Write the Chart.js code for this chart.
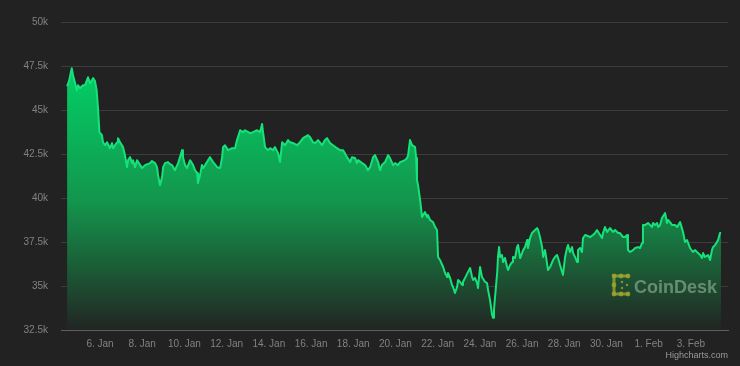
<!DOCTYPE html>
<html>
<head>
<meta charset="utf-8">
<title>BTC price</title>
<script src="https://cdn.jsdelivr.net/npm/chart.js@4.4.1/dist/chart.umd.min.js"></script>
<style>
  html, body { margin: 0; padding: 0; background: #222222; }
  #wrap { width: 740px; height: 366px; }
  canvas { display: block; }
</style>
</head>
<body>
<div id="wrap"><canvas id="priceChart" width="740" height="366"></canvas></div>
<script>
// time as day of January (1. Feb = 32), price in USD
const days = [
    4.44, 4.53, 4.66, 4.72, 4.82, 4.90, 4.96, 5.05, 5.19, 5.29,
    5.43, 5.53, 5.67, 5.76, 5.84, 5.91, 5.97, 6.09, 6.14, 6.24,
    6.33, 6.47, 6.57, 6.62, 6.71, 6.81, 6.85, 6.95, 7.09, 7.18,
    7.28, 7.33, 7.42, 7.52, 7.56, 7.66, 7.75, 7.90, 7.99, 8.13,
    8.37, 8.46, 8.61, 8.70, 8.75, 8.84, 8.94, 8.99, 9.08, 9.22,
    9.32, 9.41, 9.55, 9.70, 9.79, 9.89, 9.93, 10.03, 10.12, 10.27,
    10.41, 10.50, 10.60, 10.64, 10.74, 10.83, 10.88, 10.98, 11.12, 11.21,
    11.36, 11.55, 11.69, 11.78, 11.83, 11.92, 12.07, 12.26, 12.40, 12.49,
    12.64, 12.78, 12.87, 13.11, 13.25, 13.44, 13.58, 13.68, 13.73, 13.82,
    13.96, 14.06, 14.20, 14.29, 14.44, 14.53, 14.63, 14.77, 14.91, 15.00,
    15.15, 15.34, 15.48, 15.62, 15.86, 15.95, 16.09, 16.19, 16.33, 16.52,
    16.66, 16.76, 16.90, 17.04, 17.23, 17.37, 17.52, 17.71, 17.85, 17.94,
    18.09, 18.18, 18.23, 18.42, 18.56, 18.70, 18.80, 18.94, 19.03, 19.18,
    19.27, 19.36, 19.51, 19.65, 19.74, 19.89, 19.98, 20.12, 20.22, 20.45,
    20.55, 20.60, 20.69, 20.79, 20.93, 20.98, 21.02, 21.07, 21.17, 21.26,
    21.40, 21.50, 21.54, 21.64, 21.78, 21.88, 21.97, 22.02, 22.11, 22.26,
    22.35, 22.45, 22.49, 22.59, 22.68, 22.73, 22.82, 22.92, 22.97, 23.06,
    23.16, 23.20, 23.30, 23.44, 23.54, 23.63, 23.68, 23.77, 23.87, 23.91,
    24.01, 24.10, 24.25, 24.34, 24.39, 24.48, 24.58, 24.63, 24.67, 24.72,
    24.82, 24.86, 24.91, 24.96, 25.05, 25.10, 25.19, 25.29, 25.34, 25.43,
    25.53, 25.57, 25.67, 25.76, 25.81, 25.91, 26.00, 26.05, 26.14, 26.24,
    26.28, 26.38, 26.47, 26.62, 26.71, 26.76, 26.85, 26.95, 27.00, 27.09,
    27.18, 27.23, 27.33, 27.47, 27.56, 27.66, 27.71, 27.80, 27.90, 27.94,
    28.04, 28.13, 28.18, 28.27, 28.37, 28.42, 28.51, 28.61, 28.65, 28.75,
    28.84, 28.89, 28.99, 29.13, 29.22, 29.36, 29.46, 29.55, 29.70, 29.79,
    29.84, 29.93, 30.03, 30.17, 30.31, 30.41, 30.55, 30.64, 30.79, 30.88,
    30.98, 31.02, 31.12, 31.26, 31.36, 31.50, 31.59, 31.69, 31.73, 31.83,
    31.97, 32.07, 32.16, 32.21, 32.30, 32.40, 32.45, 32.54, 32.63, 32.78,
    32.87, 32.92, 33.01, 33.11, 33.25, 33.35, 33.49, 33.63, 33.72, 33.82,
    33.96, 34.10, 34.20, 34.29, 34.44, 34.53, 34.58, 34.67, 34.82, 34.91,
    35.00, 35.05, 35.15, 35.29, 35.38, 35.43
];

const prices = [
    46350, 46640, 47370, 46980, 46520, 46120, 46410, 46240, 46410, 46410,
    46860, 46520, 46810, 46640, 46120, 44990, 43740, 43570, 43170, 43000,
    43170, 42830, 43120, 42830, 43000, 43170, 43400, 43170, 42890, 42440,
    41750, 42150, 42320, 41980, 42150, 41750, 42150, 41870, 41700, 41870,
    41980, 42100, 41980, 41750, 41300, 40730, 41190, 41750, 41980, 42040,
    41920, 41870, 41580, 41980, 42320, 42720, 42320, 41870, 41700, 42150,
    41870, 41580, 41410, 40850, 41300, 41870, 41700, 41870, 42150, 42320,
    42040, 41750, 41700, 42270, 42890, 43000, 42720, 42830, 42830, 43290,
    43850, 43740, 43850, 43680, 43740, 43850, 43740, 44200, 43680, 42890,
    42720, 42830, 42720, 42890, 42550, 42040, 43170, 43000, 43290, 43170,
    43120, 43000, 43170, 43400, 43570, 43460, 43170, 43120, 43290, 43000,
    43290, 43400, 43120, 43000, 42830, 42720, 42720, 42320, 42040, 42320,
    42270, 41980, 42150, 41980, 41870, 41580, 41750, 42320, 42440, 42040,
    41580, 41870, 42040, 42440, 42270, 41870, 41980, 41870, 42040, 42150,
    42270, 42440, 43290, 43000, 42890, 42270, 41020, 40730, 39880, 38920,
    39200, 38920, 39030, 38750, 38630, 38350, 38180, 36650, 36480, 36080,
    35740, 35510, 35740, 35460, 35060, 34940, 34600, 34940, 35340, 35230,
    35060, 35230, 35460, 35800, 36020, 35510, 35340, 35460, 35170, 34890,
    36080, 35510, 35230, 35170, 34770, 34210, 33360, 33190, 33640, 34380,
    35740, 36650, 37210, 36650, 36760, 36360, 36590, 36080, 35910, 36190,
    36360, 36650, 36590, 37210, 37330, 36590, 36870, 37040, 37210, 37610,
    37160, 37730, 38010, 38180, 38290, 38180, 37780, 37210, 36650, 37040,
    36310, 35910, 36080, 36480, 36650, 36760, 36590, 36190, 35800, 35630,
    36650, 37160, 37330, 36930, 37210, 36870, 36650, 36360, 37040, 37160,
    36930, 37730, 37900, 37840, 37780, 37900, 38010, 38180, 37900, 37730,
    38010, 38350, 38070, 38290, 38070, 38180, 38010, 38010, 37780, 37780,
    37900, 37040, 36930, 37040, 37160, 37210, 37160, 37440, 38460, 38460,
    38580, 38460, 38350, 38580, 38460, 38580, 38350, 38460, 38860, 39140,
    38580, 38750, 38630, 38460, 38460, 38350, 38630, 38070, 37500, 37610,
    37160, 36930, 37040, 36930, 36760, 36590, 36870, 36650, 36760, 36480,
    37040, 37210, 37330, 37610, 38010, 38010
];

const tickDays = [6, 8, 10, 12, 14, 16, 18, 20, 22, 24, 26, 28, 30, 32, 34];
const tickLabels = ['6. Jan', '8. Jan', '10. Jan', '12. Jan', '14. Jan', '16. Jan', '18. Jan',
    '20. Jan', '22. Jan', '24. Jan', '26. Jan', '28. Jan', '30. Jan', '1. Feb', '3. Feb'];
const priceTicks = [32500, 35000, 37500, 40000, 42500, 45000, 47500, 50000];

const FONT = "'Liberation Sans', Arial, Helvetica, sans-serif";
const LABEL_COLOR = '#828282';

// watermark + credits text
const extrasPlugin = {
    id: 'extras',
    afterDatasetsDraw(chart) {
        const ctx = chart.ctx;
        ctx.save();

        // CoinDesk logo mark
        ctx.strokeStyle = 'rgba(160, 165, 45, 0.8)';
        ctx.fillStyle = 'rgba(160, 165, 45, 0.8)';
        ctx.lineWidth = 3;
        ctx.lineCap = 'round';
        ctx.beginPath();
        ctx.moveTo(628, 276); ctx.lineTo(614, 276); ctx.lineTo(614, 294); ctx.lineTo(628, 294);
        ctx.stroke();
        [[614, 276], [621, 276], [628, 276], [614, 285], [614, 294], [621, 294], [628, 294]].forEach(([x, y]) => {
            ctx.beginPath(); ctx.arc(x, y, 2.4, 0, Math.PI * 2); ctx.fill();
        });
        [[622, 282], [622, 288], [627, 285]].forEach(([x, y]) => {
            ctx.beginPath(); ctx.arc(x, y, 1.2, 0, Math.PI * 2); ctx.fill();
        });

        ctx.fillStyle = 'rgba(175, 205, 180, 0.5)';
        ctx.font = 'bold 18px ' + FONT;
        ctx.textAlign = 'left';
        ctx.textBaseline = 'alphabetic';
        ctx.fillText('CoinDesk', 634, 293);

        ctx.fillStyle = '#9a9a9a';
        ctx.font = '9px ' + FONT;
        ctx.textAlign = 'right';
        ctx.fillText('Highcharts.com', 728, 358);
        ctx.restore();
    }
};

const ctx = document.getElementById('priceChart').getContext('2d');

new Chart(ctx, {
    type: 'line',
    data: {
        datasets: [{
            label: 'BTC',
            data: days.map((d, i) => ({ x: d, y: prices[i] })),
            borderColor: '#16e27a',
            borderWidth: 2,
            borderJoinStyle: 'round',
            pointRadius: 0,
            tension: 0,
            fill: 'start',
            backgroundColor: (context) => {
                const area = context.chart.chartArea;
                if (!area) return 'rgba(0, 200, 100, 0.5)';
                const g = context.chart.ctx.createLinearGradient(0, area.top, 0, area.bottom);
                g.addColorStop(0, 'rgb(0, 222, 110)');
                g.addColorStop(0.3, 'rgb(8, 188, 94)');
                g.addColorStop(0.58, 'rgb(19, 150, 77)');
                g.addColorStop(0.85, 'rgb(29, 78, 49)');
                g.addColorStop(1, 'rgb(33, 37, 35)');
                return g;
            }
        }]
    },
    options: {
        responsive: false,
        animation: false,
        devicePixelRatio: 1,
        layout: { padding: { top: 22, right: 12, left: 0, bottom: 0 } },
        plugins: {
            legend: { display: false },
            tooltip: { enabled: false }
        },
        scales: {
            x: {
                type: 'linear',
                min: 4.15,
                max: 35.76,
                grid: { display: false, drawTicks: false },
                border: { display: true, color: '#5e5e5e', width: 1 },
                afterBuildTicks: (scale) => {
                    scale.ticks = tickDays.map(v => ({ value: v }));
                },
                afterFit: (scale) => { scale.height = 36; },
                ticks: {
                    autoSkip: false,
                    maxRotation: 0,
                    padding: 8,
                    color: LABEL_COLOR,
                    font: { family: FONT, size: 10 },
                    callback: (v) => tickLabels[tickDays.indexOf(v)]
                }
            },
            y: {
                min: 32500,
                max: 50000,
                grid: { color: '#3c3c3c', lineWidth: 1, drawTicks: false },
                border: { display: false },
                afterBuildTicks: (scale) => {
                    scale.ticks = priceTicks.map(v => ({ value: v }));
                },
                afterFit: (scale) => { scale.width = 61; },
                ticks: {
                    padding: 13,
                    color: LABEL_COLOR,
                    font: { family: FONT, size: 10 },
                    callback: (v) => (v / 1000) + 'k'
                }
            }
        }
    },
    plugins: [extrasPlugin]
});
</script>
</body>
</html>
